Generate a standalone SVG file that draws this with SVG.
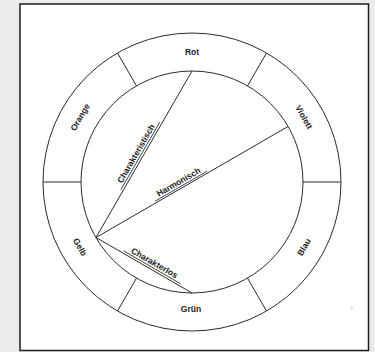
<svg xmlns="http://www.w3.org/2000/svg" width="375" height="352" viewBox="0 0 375 352">
<style>
.ln{fill:none;stroke:#2a2a2a;stroke-width:1}
.ul{fill:none;stroke:#2a2a2a;stroke-width:0.8}
.lab{font-family:"Liberation Sans",Arial,sans-serif;font-size:8.5px;font-weight:bold;fill:#222;text-anchor:middle}
.ch{font-family:"Liberation Sans",Arial,sans-serif;font-size:8.5px;font-weight:bold;fill:#222;text-anchor:middle}
</style>
<rect x="0" y="0" width="375" height="352" fill="#ebebeb"/>
<rect x="20" y="4" width="348.5" height="346.5" fill="#fff" stroke="#1e1e1e" stroke-width="1.5"/>
<g id="wheel">
<circle class="ln" cx="192" cy="182" r="149"/>
<circle class="ln" cx="192" cy="182" r="111"/>
<line class="ln" x1="43" y1="182" x2="81" y2="182"/>
<line class="ln" x1="303" y1="182" x2="341" y2="182"/>
<line class="ln" x1="117.5" y1="53" x2="136.5" y2="85.9"/>
<line class="ln" x1="266.5" y1="53" x2="247.5" y2="85.9"/>
<line class="ln" x1="117.5" y1="311" x2="136.5" y2="278.1"/>
<line class="ln" x1="266.5" y1="311" x2="247.5" y2="278.1"/>
</g>
<g id="rot"><text class="lab" x="192" y="55">Rot</text></g>
<g id="violett"><text class="lab" transform="translate(304,117) rotate(60)" y="3">Violett</text></g>
<g id="blau"><text class="lab" transform="translate(304,247) rotate(-60)" y="3">Blau</text></g>
<g id="gruen"><text class="lab" x="191" y="312">Grün</text></g>
<g id="gelb"><text class="lab" transform="translate(80,247) rotate(60)" y="3">Gelb</text></g>
<g id="orange"><text class="lab" transform="translate(80,117) rotate(-60)" y="3">Orange</text></g>
<g id="connectors">
<line class="ln" x1="96" y1="237.5" x2="192" y2="71"/>
<line class="ln" x1="96" y1="237.5" x2="288" y2="126.5"/>
<line class="ln" x1="96" y1="237.5" x2="192" y2="293"/>
<line class="ul" transform="translate(142,157) rotate(-60)" x1="-39" y1="-2" x2="39" y2="-2"/>
<line class="ul" transform="translate(182,188) rotate(-30)" x1="-30" y1="-2" x2="30" y2="-2"/>
<line class="ul" transform="translate(151,269) rotate(30)" x1="-33" y1="-2" x2="33" y2="-2"/>
</g>
<g id="label-charakteristisch"><text class="ch" transform="translate(142,157) rotate(-60)" y="-4">Charakteristisch</text></g>
<g id="label-harmonisch"><text class="ch" transform="translate(182,188) rotate(-30)" y="-4">Harmonisch</text></g>
<g id="label-charakterlos"><text class="ch" transform="translate(151,269) rotate(30)" y="-4">Charakterlos</text></g>
<text x="350" y="311" font-family="Liberation Sans,Arial,sans-serif" font-size="9" fill="#bbb">›</text>
</svg>
